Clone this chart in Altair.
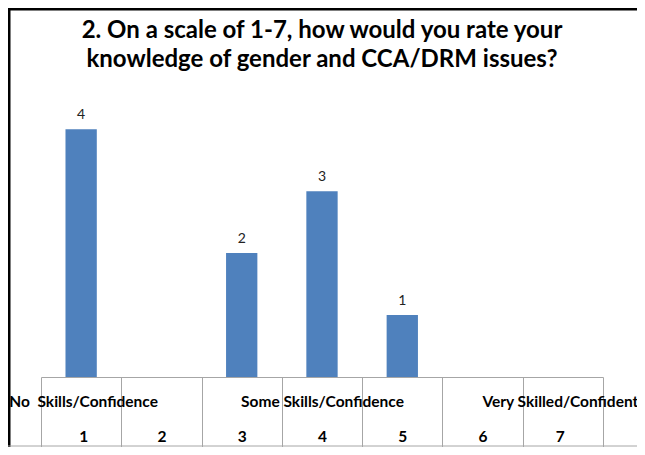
import altair as alt
import pandas as pd

ratings = ["1", "2", "3", "4", "5", "6", "7"]
counts = [4, 0, 2, 3, 1, 0, 0]
scale_labels = ["No\u00a0 Skills/Confidence", "", "", "Some Skills/Confidence", "", "", "Very Skilled/Confident"]
title_lines = ["2. On a scale of 1-7, how would you rate your",
               "knowledge of gender and CCA/DRM issues?"]

df = pd.DataFrame({"rating": ratings, "count": counts})
bars_df = df[df["count"] > 0]

parts = []
for r, lab in zip(ratings, scale_labels):
    if lab:
        parts.append(f"datum.value == '{r}' ? ['{lab}', '{r}']")
label_expr = " : ".join(parts) + " : ['\u00a0', datum.value]"

W, H = 562, 285
x_scale = alt.Scale(domain=ratings, paddingInner=0, paddingOuter=0)
y_scale = alt.Scale(domain=[0, 4.6], nice=False)

x_axis = alt.Axis(
    title=None, labelAngle=0, domainColor="#A6A6A6", domainWidth=1,
    tickColor="#A6A6A6", tickWidth=1, tickSize=72, tickBand="extent",
    labelExpr=label_expr, labelFont="Lato", labelFontWeight="bold",
    labelFontSize=15.5, labelColor="#000000", labelPadding=-55,
    labelLineHeight=35, labelOverlap=False, labelBound=False, labelLimit=400,
    labelOffset={"condition": [{"test": "datum.value == '1'", "value": 2},
                               {"test": "datum.value == '7'", "value": -3}],
                 "value": 0},
    grid=False,
)

base = alt.Chart(bars_df)
bars = base.mark_bar(color="#4F81BD", width=alt.RelativeBandSize(0.39)).encode(
    x=alt.X("rating:N", sort=ratings, scale=x_scale, axis=x_axis),
    y=alt.Y("count:Q", scale=y_scale, axis=None),
)
labels = base.mark_text(dy=-10, baseline="alphabetic", font="Lato", fontSize=14,
                        color="#222222").encode(
    x=alt.X("rating:N", sort=ratings, scale=x_scale),
    y=alt.Y("count:Q", scale=y_scale),
    text=alt.Text("count:Q"),
)

one = alt.Chart(pd.DataFrame({"k": [0]}))
left_border = one.mark_rule(color="#000000", strokeWidth=3).encode(
    x=alt.value(-32), y=alt.value(-84), y2=alt.value(H + 72))
top_border = one.mark_rule(color="#000000", strokeWidth=3).encode(
    x=alt.value(-33), x2=alt.value(W + 50), y=alt.value(-83))
bottom_line = one.mark_rule(color="#A6A6A6", strokeWidth=1).encode(
    x=alt.value(-33), x2=alt.value(W + 50), y=alt.value(H + 69))

chart = alt.layer(bars, labels, left_border, top_border, bottom_line).properties(
    width=W, height=H,
    title=alt.TitleParams(text=title_lines, font="Lato", fontSize=24,
                          fontWeight="bold", color="#000000", anchor="middle",
                          lineHeight=29, offset=-65),
    autosize=alt.AutoSizeParams(type="none"),
    padding={"left": 33, "top": 84, "right": 34, "bottom": 70},
).configure_view(stroke=None)

chart.save("out.html", embed_options={"renderer": "svg", "actions": False})
